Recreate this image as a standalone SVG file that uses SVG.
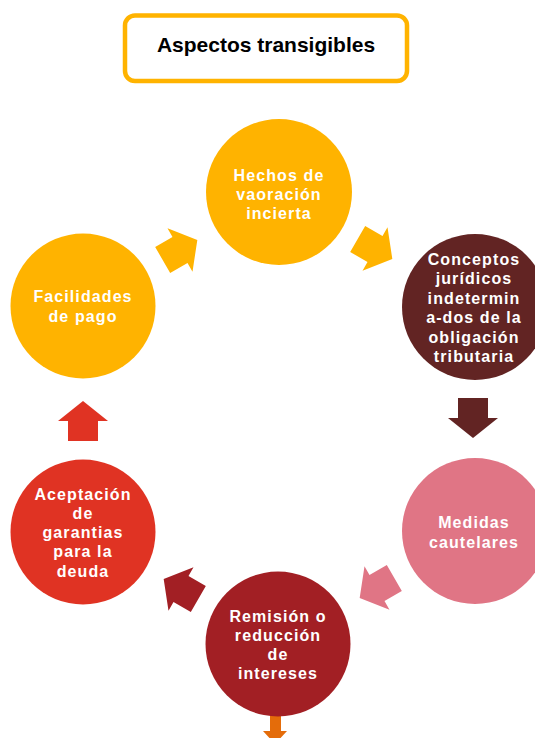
<svg xmlns="http://www.w3.org/2000/svg" width="535" height="738" viewBox="0 0 535 738">
<defs>
<style>
.t{font-family:"Liberation Sans",Arial,sans-serif;font-weight:bold;font-size:16px;fill:#fff;text-anchor:middle;letter-spacing:1.1px}
.title{font-family:"Liberation Sans",Arial,sans-serif;font-weight:bold;font-size:21px;fill:#000;text-anchor:middle}
</style>
<path id="arr" d="M-20,-15 L0,-15 L0,-25 L20,0 L0,25 L0,15 L-20,15 Z"/>
</defs>
<rect width="535" height="738" fill="#fff"/>
<g id="title">
<rect x="125" y="15.5" width="282" height="65.5" rx="10" fill="#fff" stroke="#FFB300" stroke-width="4.5"/>
<text class="title" x="266" y="51.7">Aspectos transigibles</text>
</g>
<g id="connectors">
<path d="M270,700 L281,700 L281,731 L287,731 L275,744 L263,731 L270,731 Z" fill="#E46C0A"/>
<use href="#arr" transform="translate(180,250) rotate(-30)" fill="#FFB300"/>
<use href="#arr" transform="translate(375,249) rotate(30)" fill="#FFB300"/>
<use href="#arr" transform="translate(473,418) rotate(90)" fill="#622423"/>
<use href="#arr" transform="translate(377,588) rotate(150)" fill="#E07585"/>
<use href="#arr" transform="translate(181,589) rotate(210)" fill="#A21F24"/>
<use href="#arr" transform="translate(83,421) rotate(-90)" fill="#E03323"/>
</g>
<g id="n1">
<circle cx="279" cy="192" r="73" fill="#FFB300"/>
<text class="t" x="279" y="181">Hechos de</text>
<text class="t" x="279" y="200">vaoración</text>
<text class="t" x="279" y="219">incierta</text>
</g>
<g id="n2">
<circle cx="475" cy="307" r="73" fill="#622423"/>
<text class="t" x="474" y="265">Conceptos</text>
<text class="t" x="474" y="284.4">jurídicos</text>
<text class="t" x="474" y="303.8">indetermin</text>
<text class="t" x="474" y="323.2">a-dos de la</text>
<text class="t" x="474" y="342.6">obligación</text>
<text class="t" x="474" y="362">tributaria</text>
</g>
<g id="n3">
<circle cx="475" cy="531" r="73" fill="#E07585"/>
<text class="t" x="474" y="528.3">Medidas</text>
<text class="t" x="474" y="547.7">cautelares</text>
</g>
<g id="n4">
<circle cx="278" cy="644" r="72.5" fill="#A21F24"/>
<text class="t" x="278" y="621.7">Remisión o</text>
<text class="t" x="278" y="641">reducción</text>
<text class="t" x="278" y="660">de</text>
<text class="t" x="278" y="679">intereses</text>
</g>
<g id="n5">
<circle cx="83" cy="532" r="72.5" fill="#E03323"/>
<text class="t" x="83" y="500">Aceptación</text>
<text class="t" x="83" y="519">de</text>
<text class="t" x="83" y="538.3">garantias</text>
<text class="t" x="83" y="557.3">para la</text>
<text class="t" x="83" y="576.7">deuda</text>
</g>
<g id="n6">
<circle cx="83" cy="306" r="72.5" fill="#FFB300"/>
<text class="t" x="83" y="302.3">Facilidades</text>
<text class="t" x="83" y="322">de pago</text>
</g>
</svg>
